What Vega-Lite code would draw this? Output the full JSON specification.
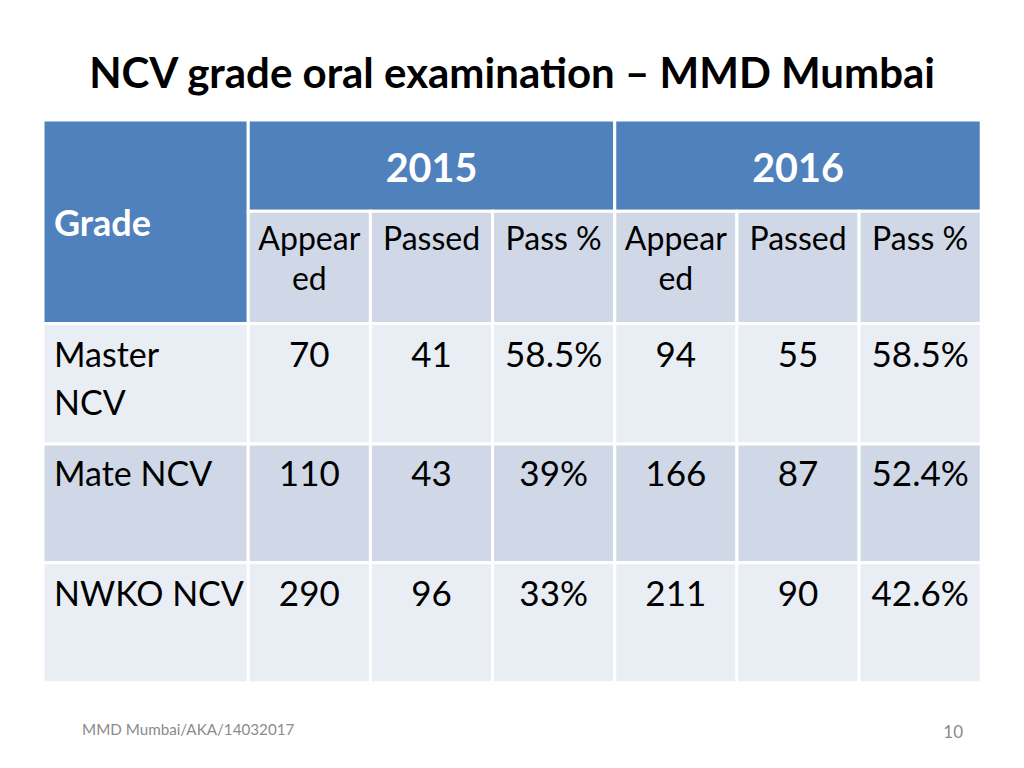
{
  "$schema": "https://vega.github.io/schema/vega-lite/v6.json",
  "width": 1024,
  "height": 768,
  "autosize": {"type": "fit", "contains": "padding"},
  "padding": 0,
  "background": "white",
  "view": {"stroke": null},
  "config": {"font": "Lato"},
  "datasets": {
    "cells": [
      {"x0": 0, "x1": 1.68, "y0": 0, "y1": 1.695, "kind": "head"},
      {"x0": 1.68, "x1": 4.68, "y0": 0, "y1": 0.76, "kind": "head"},
      {"x0": 4.68, "x1": 7.68, "y0": 0, "y1": 0.76, "kind": "head"},
      {"x0": 1.68, "x1": 2.68, "y0": 0.76, "y1": 1.695, "kind": "mid"},
      {"x0": 2.68, "x1": 3.68, "y0": 0.76, "y1": 1.695, "kind": "mid"},
      {"x0": 3.68, "x1": 4.68, "y0": 0.76, "y1": 1.695, "kind": "mid"},
      {"x0": 4.68, "x1": 5.68, "y0": 0.76, "y1": 1.695, "kind": "mid"},
      {"x0": 5.68, "x1": 6.68, "y0": 0.76, "y1": 1.695, "kind": "mid"},
      {"x0": 6.68, "x1": 7.68, "y0": 0.76, "y1": 1.695, "kind": "mid"},
      {"x0": 0, "x1": 1.68, "y0": 1.695, "y1": 2.7, "kind": "light"},
      {"x0": 1.68, "x1": 2.68, "y0": 1.695, "y1": 2.7, "kind": "light"},
      {"x0": 2.68, "x1": 3.68, "y0": 1.695, "y1": 2.7, "kind": "light"},
      {"x0": 3.68, "x1": 4.68, "y0": 1.695, "y1": 2.7, "kind": "light"},
      {"x0": 4.68, "x1": 5.68, "y0": 1.695, "y1": 2.7, "kind": "light"},
      {"x0": 5.68, "x1": 6.68, "y0": 1.695, "y1": 2.7, "kind": "light"},
      {"x0": 6.68, "x1": 7.68, "y0": 1.695, "y1": 2.7, "kind": "light"},
      {"x0": 0, "x1": 1.68, "y0": 2.7, "y1": 3.69, "kind": "mid"},
      {"x0": 1.68, "x1": 2.68, "y0": 2.7, "y1": 3.69, "kind": "mid"},
      {"x0": 2.68, "x1": 3.68, "y0": 2.7, "y1": 3.69, "kind": "mid"},
      {"x0": 3.68, "x1": 4.68, "y0": 2.7, "y1": 3.69, "kind": "mid"},
      {"x0": 4.68, "x1": 5.68, "y0": 2.7, "y1": 3.69, "kind": "mid"},
      {"x0": 5.68, "x1": 6.68, "y0": 2.7, "y1": 3.69, "kind": "mid"},
      {"x0": 6.68, "x1": 7.68, "y0": 2.7, "y1": 3.69, "kind": "mid"},
      {"x0": 0, "x1": 1.68, "y0": 3.69, "y1": 4.69, "kind": "light"},
      {"x0": 1.68, "x1": 2.68, "y0": 3.69, "y1": 4.69, "kind": "light"},
      {"x0": 2.68, "x1": 3.68, "y0": 3.69, "y1": 4.69, "kind": "light"},
      {"x0": 3.68, "x1": 4.68, "y0": 3.69, "y1": 4.69, "kind": "light"},
      {"x0": 4.68, "x1": 5.68, "y0": 3.69, "y1": 4.69, "kind": "light"},
      {"x0": 5.68, "x1": 6.68, "y0": 3.69, "y1": 4.69, "kind": "light"},
      {"x0": 6.68, "x1": 7.68, "y0": 3.69, "y1": 4.69, "kind": "light"}
    ],
    "texts": [
      {"t": "NCV grade oral examination – MMD Mumbai", "x": 3.84, "y": -0.267, "role": "title"},
      {"t": "2015", "x": 3.18, "y": 0.517, "role": "head"},
      {"t": "2016", "x": 6.18, "y": 0.517, "role": "head"},
      {"t": "Grade", "x": 0.09, "y": 0.967, "role": "headL"},
      {"t": "Appear", "x": 2.18, "y": 1.083, "role": "sub"},
      {"t": "ed", "x": 2.18, "y": 1.417, "role": "sub"},
      {"t": "Passed", "x": 3.18, "y": 1.083, "role": "sub"},
      {"t": "Pass %", "x": 4.18, "y": 1.083, "role": "sub"},
      {"t": "Appear", "x": 5.18, "y": 1.083, "role": "sub"},
      {"t": "ed", "x": 5.18, "y": 1.417, "role": "sub"},
      {"t": "Passed", "x": 6.18, "y": 1.083, "role": "sub"},
      {"t": "Pass %", "x": 7.18, "y": 1.083, "role": "sub"},
      {"t": "Master", "x": 0.09, "y": 2.058, "role": "bodyL"},
      {"t": "NCV", "x": 0.09, "y": 2.458, "role": "bodyL"},
      {"t": "Mate NCV", "x": 0.09, "y": 3.05, "role": "bodyL"},
      {"t": "NWKO NCV", "x": 0.09, "y": 4.05, "role": "bodyL"},
      {"t": "70", "x": 2.18, "y": 2.058, "role": "body"},
      {"t": "41", "x": 3.18, "y": 2.058, "role": "body"},
      {"t": "58.5%", "x": 4.18, "y": 2.058, "role": "body"},
      {"t": "94", "x": 5.18, "y": 2.058, "role": "body"},
      {"t": "55", "x": 6.18, "y": 2.058, "role": "body"},
      {"t": "58.5%", "x": 7.18, "y": 2.058, "role": "body"},
      {"t": "110", "x": 2.18, "y": 3.05, "role": "body"},
      {"t": "43", "x": 3.18, "y": 3.05, "role": "body"},
      {"t": "39%", "x": 4.18, "y": 3.05, "role": "body"},
      {"t": "166", "x": 5.18, "y": 3.05, "role": "body"},
      {"t": "87", "x": 6.18, "y": 3.05, "role": "body"},
      {"t": "52.4%", "x": 7.18, "y": 3.05, "role": "body"},
      {"t": "290", "x": 2.18, "y": 4.05, "role": "body"},
      {"t": "96", "x": 3.18, "y": 4.05, "role": "body"},
      {"t": "33%", "x": 4.18, "y": 4.05, "role": "body"},
      {"t": "211", "x": 5.18, "y": 4.05, "role": "body"},
      {"t": "90", "x": 6.18, "y": 4.05, "role": "body"},
      {"t": "42.6%", "x": 7.18, "y": 4.05, "role": "body"},
      {"t": "MMD Mumbai/AKA/14032017", "x": 0.32, "y": 5.125, "role": "footL"},
      {"t": "10", "x": 7.45, "y": 5.15, "role": "foot"}
    ]
  },
  "encoding": {
    "x": {"type": "quantitative", "scale": {"domain": [-0.352, 8.03], "nice": false, "zero": false}, "axis": null},
    "y": {"type": "quantitative", "scale": {"domain": [-1.0, 5.4], "nice": false, "zero": false, "reverse": true}, "axis": null}
  },
  "layer": [
    {
      "data": {"name": "cells"},
      "mark": {"type": "rect", "stroke": "white", "strokeWidth": 3},
      "encoding": {
        "x": {"field": "x0", "type": "quantitative"},
        "x2": {"field": "x1"},
        "y": {"field": "y0", "type": "quantitative"},
        "y2": {"field": "y1"},
        "color": {"field": "kind", "type": "nominal", "scale": {"domain": ["head", "mid", "light"], "range": ["#4F81BD", "#D0D8E8", "#E9EDF4"]}, "legend": null}
      }
    },
    {
      "data": {"name": "texts"},
      "transform": [{"filter": "datum.role === 'title'"}],
      "mark": {"type": "text", "fontSize": 42, "fontWeight": "bold", "color": "black", "align": "center", "baseline": "alphabetic"},
      "encoding": {"x": {"field": "x", "type": "quantitative"}, "y": {"field": "y", "type": "quantitative"}, "text": {"field": "t"}}
    },
    {
      "data": {"name": "texts"},
      "transform": [{"filter": "datum.role === 'head'"}],
      "mark": {"type": "text", "fontSize": 39.5, "fontWeight": "bold", "color": "white", "align": "center", "baseline": "alphabetic"},
      "encoding": {"x": {"field": "x", "type": "quantitative"}, "y": {"field": "y", "type": "quantitative"}, "text": {"field": "t"}}
    },
    {
      "data": {"name": "texts"},
      "transform": [{"filter": "datum.role === 'headL'"}],
      "mark": {"type": "text", "fontSize": 36, "fontWeight": "bold", "color": "white", "align": "left", "baseline": "alphabetic"},
      "encoding": {"x": {"field": "x", "type": "quantitative"}, "y": {"field": "y", "type": "quantitative"}, "text": {"field": "t"}}
    },
    {
      "data": {"name": "texts"},
      "transform": [{"filter": "datum.role === 'sub'"}],
      "mark": {"type": "text", "fontSize": 32, "color": "black", "align": "center", "baseline": "alphabetic"},
      "encoding": {"x": {"field": "x", "type": "quantitative"}, "y": {"field": "y", "type": "quantitative"}, "text": {"field": "t"}}
    },
    {
      "data": {"name": "texts"},
      "transform": [{"filter": "datum.role === 'body'"}],
      "mark": {"type": "text", "fontSize": 35, "color": "black", "align": "center", "baseline": "alphabetic"},
      "encoding": {"x": {"field": "x", "type": "quantitative"}, "y": {"field": "y", "type": "quantitative"}, "text": {"field": "t"}}
    },
    {
      "data": {"name": "texts"},
      "transform": [{"filter": "datum.role === 'bodyL'"}],
      "mark": {"type": "text", "fontSize": 34, "color": "black", "align": "left", "baseline": "alphabetic"},
      "encoding": {"x": {"field": "x", "type": "quantitative"}, "y": {"field": "y", "type": "quantitative"}, "text": {"field": "t"}}
    },
    {
      "data": {"name": "texts"},
      "transform": [{"filter": "datum.role === 'footL'"}],
      "mark": {"type": "text", "fontSize": 15.2, "color": "#8B8B8B", "align": "left", "baseline": "alphabetic"},
      "encoding": {"x": {"field": "x", "type": "quantitative"}, "y": {"field": "y", "type": "quantitative"}, "text": {"field": "t"}}
    },
    {
      "data": {"name": "texts"},
      "transform": [{"filter": "datum.role === 'foot'"}],
      "mark": {"type": "text", "fontSize": 17, "color": "#8B8B8B", "align": "center", "baseline": "alphabetic"},
      "encoding": {"x": {"field": "x", "type": "quantitative"}, "y": {"field": "y", "type": "quantitative"}, "text": {"field": "t"}}
    }
  ]
}
